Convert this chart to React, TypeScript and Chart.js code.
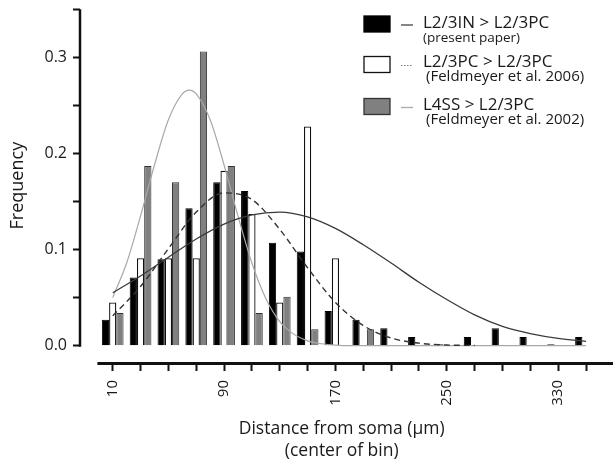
import { useEffect, useRef } from "react";
import { Chart, registerables } from "chart.js";

Chart.register(...registerables);

// ---- data ----
const BIN_CENTERS = [10, 30, 50, 70, 90, 110, 130, 150, 170, 190, 210, 230, 250, 270, 290, 310, 330, 350];
const L23IN_FREQ = [0.027, 0.071, 0.09, 0.143, 0.17, 0.161, 0.107, 0.098, 0.036, 0.027, 0.018, 0.009, 0.0015, 0.009, 0.018, 0.009, 0.0015, 0.009];
const L23PC_FREQ = [0.045, 0.091, 0.091, 0.091, 0.182, 0.137, 0.045, 0.228, 0.091, 0, 0, 0, 0, 0, 0, 0, 0, 0];
const L4SS_FREQ = [0.034, 0.187, 0.17, 0.306, 0.187, 0.034, 0.051, 0.017, 0, 0.017, 0, 0, 0, 0, 0, 0, 0, 0];

const L23IN_FIT_X = [10, 30, 50, 70, 90, 110, 130, 150, 170, 190, 210, 230, 250, 270, 290, 310, 330, 350];
const L23IN_FIT_Y = [0.055, 0.0725, 0.092, 0.111, 0.1265, 0.136, 0.139, 0.134, 0.122, 0.105, 0.086, 0.066, 0.048, 0.032, 0.02, 0.0125, 0.0075, 0.0045];
const L23PC_FIT_X = [10, 30, 50, 70, 90, 110, 130, 150, 170, 190, 210, 230, 250, 270];
const L23PC_FIT_Y = [0.031, 0.0615, 0.101, 0.139, 0.159, 0.152, 0.121, 0.081, 0.045, 0.021, 0.008, 0.0026, 0.0007, 0.0002];
const L4SS_FIT_X = [10, 20, 30, 40, 50, 60, 65, 70, 80, 90, 100, 110, 120, 130, 140, 150, 160, 170, 180, 200, 250, 300, 350];
const L4SS_FIT_Y = [0.05, 0.086, 0.135, 0.188, 0.235, 0.262, 0.266, 0.262, 0.235, 0.188, 0.135, 0.086, 0.049, 0.025, 0.012, 0.005, 0.002, 0.0006, 0, 0, 0, 0, 0];

const X_TICKS = [10, 30, 50, 70, 90, 110, 130, 150, 170, 190, 210, 230, 250, 270, 290, 310, 330, 350];
const X_LABELED = [10, 90, 170, 250, 330];
const Y_TICKS = [0, 0.05, 0.1, 0.15, 0.2, 0.25, 0.3, 0.35];
const Y_TICK_LABELS = ["0.0", "", "0.1", "", "0.2", "", "0.3", ""];

const X_TITLE = ["Distance from soma (\u00b5m)", "(center of bin)"];
const Y_TITLE = "Frequency";
const LEGEND_MAIN = ["L2/3IN > L2/3PC", "L2/3PC > L2/3PC", "L4SS > L2/3PC"];
const LEGEND_SUB = ["(present paper)", "(Feldmeyer et al. 2006)", "(Feldmeyer et al. 2002)"];

const X_MIN = -13.5;
const X_MAX = 362.5;
const Y_MIN = -0.017;
const Y_MAX = 0.35;

const FONT = "'Open Sans', 'Noto Sans', sans-serif";

const pts = (xs: number[], ys: number[]) => xs.map((x, i) => ({ x, y: ys[i] }));

const axisAndLegendPlugin = {
  id: "axisAndLegend",
  afterDraw(chart: any) {
    const { ctx, chartArea, scales } = chart;
    const x = scales.x;
    const y = scales.y;
    ctx.save();
    // y axis line (0 .. max)
    ctx.strokeStyle = "#111";
    ctx.lineWidth = 2.5;
    ctx.beginPath();
    ctx.moveTo(chartArea.left, y.getPixelForValue(0) + 1);
    ctx.lineTo(chartArea.left, y.getPixelForValue(Y_MAX));
    ctx.stroke();
    // x axis line
    ctx.lineWidth = 3;
    ctx.beginPath();
    ctx.moveTo(x.getPixelForValue(-1), chartArea.bottom + 1.5);
    ctx.lineTo(chart.width, chartArea.bottom + 1.5);
    ctx.stroke();

    // legend
    const boxX = 364, boxW = 26, boxH = 16;
    const boxY = [16, 56.5, 98.5];
    const mainY = [23.5, 62, 105];
    const subY = [38.5, 77, 120];
    const subX = [423, 426, 426];
    const fills = ["#000", "#fff", "#808080"];
    const strokes = ["#000", "#111", "#333"];
    for (let i = 0; i < 3; i++) {
      ctx.fillStyle = fills[i];
      ctx.fillRect(boxX, boxY[i], boxW, boxH);
      ctx.strokeStyle = strokes[i];
      ctx.lineWidth = 1.3;
      ctx.setLineDash([]);
      ctx.strokeRect(boxX, boxY[i], boxW, boxH);
      // line sample
      const ly = boxY[i] + boxH / 2 + 1;
      ctx.beginPath();
      if (i === 0) { ctx.strokeStyle = "#444"; ctx.lineWidth = 1.3; }
      if (i === 1) { ctx.strokeStyle = "#777"; ctx.lineWidth = 1; ctx.setLineDash([1.5, 1.5]); }
      if (i === 2) { ctx.strokeStyle = "#aaa"; ctx.lineWidth = 1.3; }
      ctx.moveTo(401, ly);
      ctx.lineTo(413, ly);
      ctx.stroke();
      ctx.setLineDash([]);
      ctx.fillStyle = "#1a1a1a";
      ctx.textBaseline = "middle";
      ctx.textAlign = "left";
      ctx.font = `17px ${FONT}`;
      ctx.fillText(LEGEND_MAIN[i], 423, mainY[i]);
      ctx.font = i === 0 ? `13.5px ${FONT}` : `15px ${FONT}`;
      ctx.fillText(LEGEND_SUB[i], subX[i], subY[i]);
    }
    ctx.restore();
  },
};

export default function App() {
  const ref = useRef<HTMLCanvasElement | null>(null);
  useEffect(() => {
    if (!ref.current) return;
    const chart = new Chart(ref.current, {
      type: "bar",
      data: {
        datasets: [
          {
            type: "line",
            label: "L2/3IN fit",
            data: pts(L23IN_FIT_X, L23IN_FIT_Y),
            borderColor: "#3a3a3a",
            borderWidth: 1.3,
            pointRadius: 0,
            cubicInterpolationMode: "monotone",
            fill: false,
            order: 1,
          },
          {
            type: "line",
            label: "L2/3PC fit",
            data: pts(L23PC_FIT_X, L23PC_FIT_Y),
            borderColor: "#333",
            borderWidth: 1.4,
            borderDash: [6, 4],
            pointRadius: 0,
            cubicInterpolationMode: "monotone",
            fill: false,
            order: 1,
          },
          {
            type: "line",
            label: "L4SS fit",
            data: pts(L4SS_FIT_X, L4SS_FIT_Y),
            borderColor: "#a8a8a8",
            borderWidth: 1.2,
            pointRadius: 0,
            cubicInterpolationMode: "monotone",
            fill: false,
            order: 1,
          },
          {
            type: "bar",
            label: "L2/3IN > L2/3PC",
            data: pts(BIN_CENTERS, L23IN_FREQ),
            backgroundColor: "#000",
            borderColor: "#000",
            borderWidth: 1,
            categoryPercentage: 0.78,
            barPercentage: 1,
            order: 2,
          },
          {
            type: "bar",
            label: "L2/3PC > L2/3PC",
            data: pts(BIN_CENTERS, L23PC_FREQ),
            backgroundColor: "#fff",
            borderColor: "#111",
            borderWidth: 1.3,
            categoryPercentage: 0.78,
            barPercentage: 1,
            order: 2,
          },
          {
            type: "bar",
            label: "L4SS > L2/3PC",
            data: pts(BIN_CENTERS, L4SS_FREQ),
            backgroundColor: "#808080",
            borderColor: "#333",
            borderWidth: 1,
            categoryPercentage: 0.78,
            barPercentage: 1,
            order: 2,
          },
        ],
      },
      options: {
        responsive: false,
        maintainAspectRatio: false,
        animation: false,
        layout: { padding: { top: 9.3, right: 0, bottom: 0, left: 0 } },
        plugins: {
          legend: { display: false },
          tooltip: { enabled: false },
        },
        scales: {
          x: {
            type: "linear",
            offset: false,
            min: X_MIN,
            max: X_MAX,
            afterBuildTicks: (s: any) => {
              s.ticks = X_TICKS.map((v) => ({ value: v }));
            },
            afterFit: (s: any) => {
              s.height = 102;
            },
            ticks: {
              autoSkip: false,
              minRotation: 90,
              maxRotation: 90,
              padding: 9,
              color: "#1a1a1a",
              font: { family: FONT, size: 15 },
              callback: (v: any) => (X_LABELED.includes(Number(v)) ? String(v) : ""),
            },
            grid: {
              offset: false,
              drawOnChartArea: false,
              drawTicks: true,
              tickLength: 9,
              tickWidth: 2,
              tickColor: "#111",
            },
            border: { display: false },
            title: {
              display: true,
              text: X_TITLE,
              color: "#1a1a1a",
              font: { family: FONT, size: 17.5, lineHeight: 1.27 },
              padding: { top: 0, bottom: 2 },
            },
          },
          y: {
            type: "linear",
            min: Y_MIN,
            max: Y_MAX,
            afterBuildTicks: (s: any) => {
              s.ticks = Y_TICKS.map((v) => ({ value: v }));
            },
            afterFit: (s: any) => {
              s.width = 80;
            },
            ticks: {
              autoSkip: false,
              padding: 6,
              color: "#1a1a1a",
              font: (c: any) => ({
                family: FONT,
                size: c.tick && c.tick.value > Y_MAX - 0.01 ? 1 : 16,
              }),
              callback: (v: any, i: number) => Y_TICK_LABELS[i] ?? "",
            },
            grid: {
              drawOnChartArea: false,
              drawTicks: true,
              tickLength: 7,
              tickWidth: 2,
              tickColor: "#111",
            },
            border: { display: false },
            title: {
              display: true,
              text: Y_TITLE,
              color: "#1a1a1a",
              font: { family: FONT, size: 18 },
              padding: { top: 7, bottom: 0 },
            },
          },
        },
      },
      plugins: [axisAndLegendPlugin],
    } as any);
    return () => chart.destroy();
  }, []);
  return (
    <div style={{ position: "fixed", left: 0, top: 0, width: 613, height: 464, background: "#fff" }}>
      <canvas ref={ref} width={613} height={464} style={{ display: "block" }} />
    </div>
  );
}
